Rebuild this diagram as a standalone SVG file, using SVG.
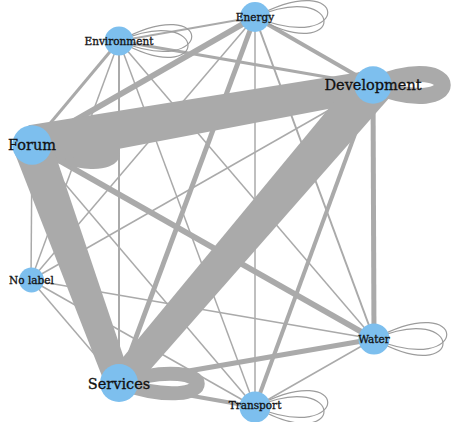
<svg xmlns="http://www.w3.org/2000/svg" width="454" height="422" viewBox="0 0 454 422">
<style>
.e{stroke:#aaaaaa;fill:none;stroke-linecap:butt}
.t{stroke-width:1.5}
.p{fill:#aaaaaa;stroke:none}
.lp{stroke:#9c9c9c;stroke-width:1.2;fill:none}
.n{fill:#7dbfee}
.lb{font-family:"DejaVu Serif","Liberation Serif",serif;fill:#111;stroke:#111;stroke-width:0.3;text-anchor:middle}
.s{font-size:10.5px}
.b{font-size:14.5px}
</style>
<rect width="454" height="422" fill="#ffffff"/>
<g id="connectors">
<line class="e t" x1="32" y1="145" x2="31" y2="280"/>
<line class="e t" x1="32" y1="145" x2="255" y2="407"/>
<line class="e t" x1="119" y1="41" x2="31" y2="280"/>
<line class="e t" x1="119" y1="41" x2="374" y2="339"/>
<line class="e t" x1="119" y1="41" x2="255" y2="407"/>
<line class="e t" x1="255" y1="17" x2="31" y2="280"/>
<line class="e t" x1="255" y1="17" x2="255" y2="407"/>
<line class="e t" x1="373" y1="85" x2="31" y2="280"/>
<line class="e t" x1="31" y1="280" x2="119" y2="383"/>
<line class="e t" x1="31" y1="280" x2="374" y2="339"/>
<line class="e t" x1="31" y1="280" x2="255" y2="407"/>
<line class="e t" x1="374" y1="339" x2="255" y2="407"/>
<line class="e" stroke-width="2" x1="119" y1="41" x2="255" y2="17"/>
<line class="e" stroke-width="2" x1="119" y1="41" x2="119" y2="383"/>
<line class="e" stroke-width="2" x1="255" y1="17" x2="374" y2="339"/>
<line class="e" stroke-width="3" x1="32" y1="145" x2="119" y2="41"/>
<line class="e" stroke-width="3" x1="119" y1="41" x2="373" y2="85"/>
<line class="e" stroke-width="4" x1="255" y1="17" x2="373" y2="85"/>
<line class="e" stroke-width="4" x1="373" y1="85" x2="255" y2="407"/>
<line class="e" stroke-width="4" x1="119" y1="383" x2="255" y2="407"/>
<line class="e" stroke-width="5" x1="255" y1="17" x2="119" y2="383"/>
<line class="e" stroke-width="5" x1="373" y1="85" x2="374" y2="339"/>
<line class="e" stroke-width="5" x1="119" y1="383" x2="374" y2="339"/>
<line class="e" stroke-width="6" x1="32" y1="145" x2="255" y2="17"/>
<line class="e" stroke-width="6" x1="32" y1="145" x2="374" y2="339"/>
<path class="e" stroke-width="18" d="M32 145 C137 125 137 187 32 145"/>
<path class="e" stroke-width="16" d="M373 85 C466 47 466 123 373 85"/>
<path class="e" stroke-width="14" d="M119 383 C224 350 224 418 119 383"/>
<polygon class="p" points="35.5,164.7 376.6,99.8 371.4,70.2 28.5,125.3"/>
<polygon class="p" points="49.9,138.5 131.2,379.6 106.8,388.4 14.1,151.5"/>
<polygon class="p" points="129.65,393.1 389.2,98 358.8,72 108.35,374.9"/>
<path class="lp" d="M255 17 C352 -35 352 57 255 17"/>
<path class="lp" d="M255 17 C347 -23 347 69 255 17"/>
<path class="lp" d="M119 41 C216 -11 216 81 119 41"/>
<path class="lp" d="M119 41 C211 1 211 93 119 41"/>
<path class="lp" d="M374 339 C471 287 471 379 374 339"/>
<path class="lp" d="M374 339 C466 299 466 391 374 339"/>
<path class="lp" d="M255 407 C352 355 352 447 255 407"/>
<path class="lp" d="M255 407 C347 367 347 459 255 407"/>
</g>
<g id="node-environment"><circle class="n" cx="119" cy="41" r="14.5"/><text class="lb s" x="119" y="45">Environment</text></g>
<g id="node-energy"><circle class="n" cx="255" cy="17" r="15"/><text class="lb s" x="255" y="21">Energy</text></g>
<g id="node-development"><circle class="n" cx="373" cy="85" r="18.7"/><text class="lb b" x="373" y="90">Development</text></g>
<g id="node-forum"><circle class="n" cx="32" cy="145" r="19.7"/><text class="lb b" x="32" y="150">Forum</text></g>
<g id="node-nolabel"><circle class="n" cx="31.5" cy="280" r="12.5"/><text class="lb s" x="31.5" y="284">No label</text></g>
<g id="node-services"><circle class="n" cx="119" cy="383" r="19"/><text class="lb b" x="119" y="389">Services</text></g>
<g id="node-water"><circle class="n" cx="374" cy="339" r="15.5"/><text class="lb s" x="374" y="343">Water</text></g>
<g id="node-transport"><circle class="n" cx="255" cy="407" r="15.5"/><text class="lb s" x="255" y="409">Transport</text></g>
</svg>
